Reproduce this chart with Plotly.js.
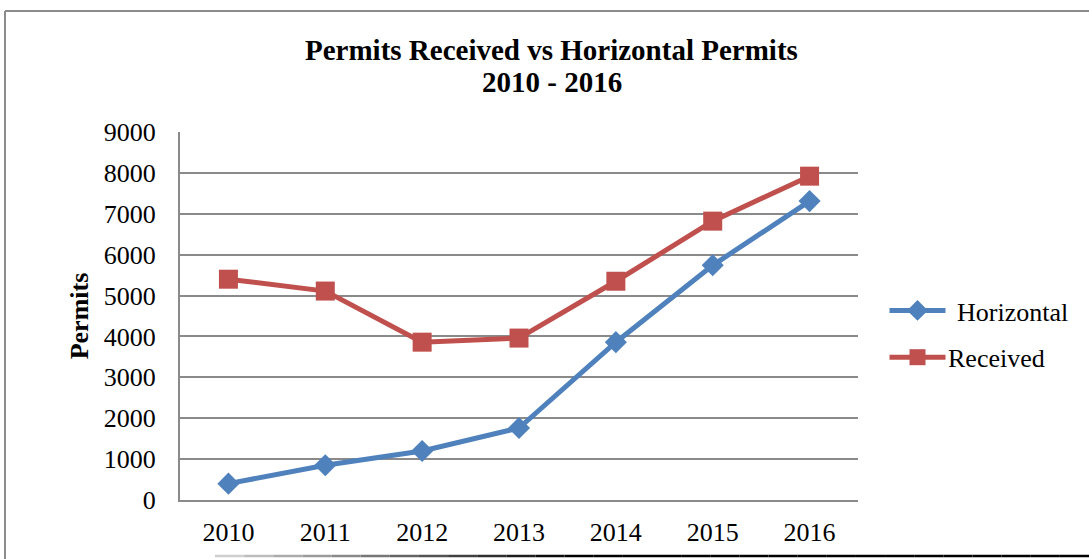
<!DOCTYPE html>
<html>
<head>
<meta charset="utf-8">
<script src="https://cdn.plot.ly/plotly-3.0.1.min.js"></script>
<style>
html,body{margin:0;padding:0;background:#fff;}
#chart{width:1089px;height:559px;}
</style>
</head>
<body>
<div id="chart"></div>
<script>
const years = ['2010','2011','2012','2013','2014','2015','2016'];
const horizontal = [400, 850, 1200, 1760, 3860, 5740, 7310];
const received = [5400, 5110, 3860, 3960, 5350, 6820, 7920];
const yTicks = [0,1000,2000,3000,4000,5000,6000,7000,8000,9000];

const W = 1089, H = 559;
const L = 180, R = 231, T = 132, B = 59;
const pw = W - L - R, ph = H - T - B;
const px = x => (x - L) / pw;
const py = y => (H - B - y) / ph;

const font = 'Liberation Serif, Times New Roman, serif';

const traces = [
  {x: years, y: horizontal, name: 'Horizontal', type: 'scatter', mode: 'lines+markers',
   legendgroup: 'a',
   line: {color: '#4F81BD', width: 5},
   marker: {symbol: 'diamond', size: 17, color: '#4F81BD'}},
  {x: years, y: received, name: 'Received', type: 'scatter', mode: 'lines+markers',
   legendgroup: 'b',
   line: {color: '#C0504D', width: 5},
   marker: {symbol: 'square', size: 19, color: '#C0504D'}}
];

// frame shapes
const shapes = [
  {type: 'line', xref: 'paper', yref: 'paper', x0: px(5), x1: px(5), y0: py(11), y1: py(559), line: {color: '#8c8c8c', width: 2}},
  {type: 'line', xref: 'paper', yref: 'paper', x0: px(5), x1: px(1089), y0: py(11), y1: py(11), line: {color: '#8c8c8c', width: 2}}
];
// bottom shadow edge, fading from light to dark
const segs = 30;
const sx0 = 215, sx1 = 1089;
for (let i = 0; i < segs; i++) {
  const x0 = sx0 + (sx1 - sx0) * i / segs;
  const x1 = sx0 + (sx1 - sx0) * (i + 1) / segs;
  const t = Math.min(1, (i + 1) / (segs * 0.42));
  const c = Math.round(225 - 225 * t);
  shapes.push({type: 'line', xref: 'paper', yref: 'paper', x0: px(x0), x1: px(x1), y0: py(556), y1: py(556),
    line: {color: `rgb(${c},${c},${c})`, width: 2.5}});
}

const layout = {
  width: W, height: H,
  margin: {l: L, r: R, t: T, b: B, pad: 0},
  paper_bgcolor: '#ffffff', plot_bgcolor: '#ffffff',
  showlegend: true,
  font: {family: font, color: '#000', size: 26},
  xaxis: {
    type: 'category', range: [-0.5, 6.5], showgrid: false, zeroline: false,
    showline: true, linecolor: '#8a8a8a', linewidth: 2,
    ticks: '', tickfont: {family: font, size: 26, color: '#000'},
    ticklabelstandoff: 8, fixedrange: true
  },
  yaxis: {
    range: [0, 9000], tickvals: yTicks, ticktext: yTicks.map(String),
    showgrid: true, gridcolor: '#8a8a8a', gridwidth: 2, zeroline: false,
    showline: true, linecolor: '#8a8a8a', linewidth: 2,
    ticks: '', ticklabelstandoff: 17,
    tickfont: {family: font, size: 26, color: '#000'},
    title: {text: '<b>Permits</b>', font: {family: font, size: 26, color: '#000'}, standoff: 8},
    fixedrange: true
  },
  legend: {
    x: px(878), y: py(334), xanchor: 'left', yanchor: 'middle',
    font: {family: font, size: 26, color: '#000'},
    traceorder: 'grouped', tracegroupgap: 10,
    bgcolor: 'rgba(0,0,0,0)', itemwidth: 69
  },
  annotations: [
    {text: '<b>Permits Received vs Horizontal Permits</b>', xref: 'paper', yref: 'paper',
     x: px(551), y: py(50), xanchor: 'center', yanchor: 'middle', showarrow: false,
     font: {family: font, size: 29, color: '#000'}},
    {text: '<b>2010 - 2016</b>', xref: 'paper', yref: 'paper',
     x: px(552), y: py(82), xanchor: 'center', yanchor: 'middle', showarrow: false,
     font: {family: font, size: 29, color: '#000'}}
  ],
  shapes: shapes
};

Plotly.newPlot('chart', traces, layout, {displayModeBar: false, staticPlot: true}).then(gd => {
  // lengthen the legend line glyphs to match the reference legend style
  gd.querySelectorAll('.legend .traces').forEach((tr, i) => {
    const pt = tr.querySelector('.legendpoints path.scatterpts');
    let cx = 20;
    if (pt) {
      const m = /translate\(([-\d.]+)/.exec(pt.getAttribute('transform') || '');
      if (m) cx = parseFloat(m[1]);
    }
    tr.querySelectorAll('.legendlines path').forEach(p => {
      p.setAttribute('d', `M${cx - 28},0h56`);
    });
    if (i === 1) {
      const txt = tr.querySelector('text.legendtext');
      if (txt) txt.setAttribute('x', parseFloat(txt.getAttribute('x')) - 9);
    }
  });
});
</script>
</body>
</html>
